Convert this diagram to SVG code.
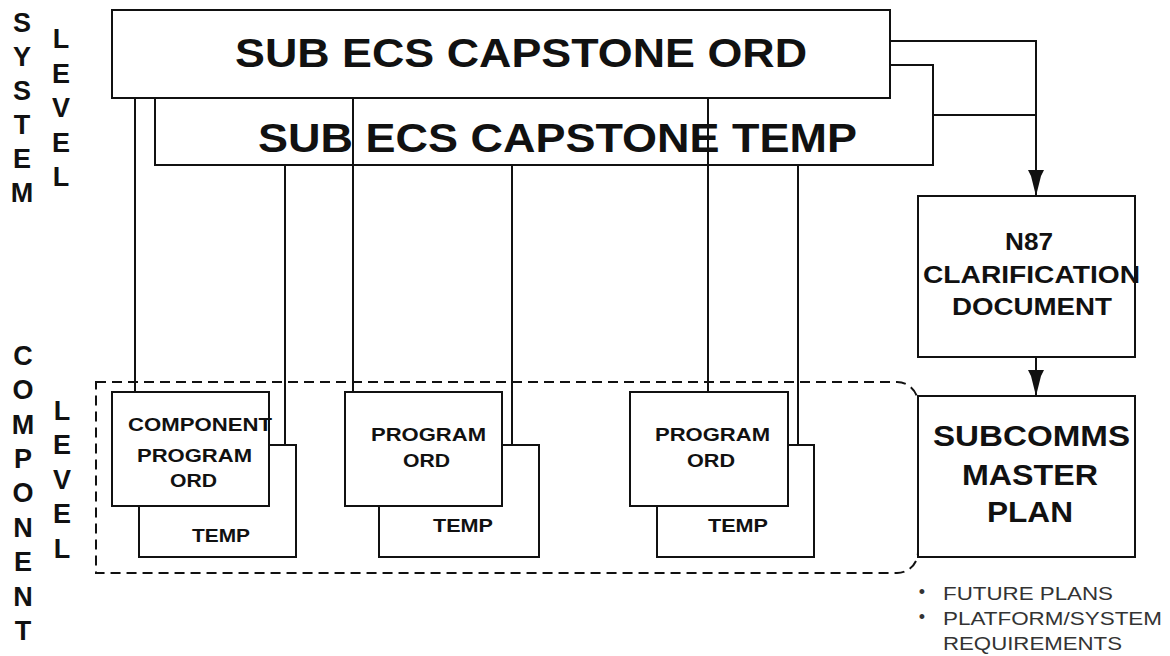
<svg xmlns="http://www.w3.org/2000/svg" width="1170" height="656" viewBox="0 0 1170 656">
<style>
.box{fill:#fff;stroke:#111;stroke-width:2}
.ln{fill:none;stroke:#111;stroke-width:2}
.dash{fill:none;stroke:#111;stroke-width:2;stroke-dasharray:10,6}
.t{font-family:"Liberation Sans",Arial,sans-serif;font-weight:bold;fill:#111}
.v{font-family:"Liberation Sans",Arial,sans-serif;font-weight:bold;fill:#111;font-size:27px;text-anchor:middle}
.b{font-family:"Liberation Sans",Arial,sans-serif;fill:#333;font-size:18px}
</style>
<defs>
<marker id="ah" viewBox="0 0 26 16" refX="26" refY="8" markerWidth="26" markerHeight="16" markerUnits="userSpaceOnUse" orient="auto">
<path d="M0,0 L6,3 L26,8 L6,13 L0,16 Z" fill="#111"/>
</marker>
</defs>
<rect width="1170" height="656" fill="#fff"/>

<g id="side-labels">
<text class="v"><tspan x="22" y="32">S</tspan><tspan x="22" y="66">Y</tspan><tspan x="22" y="100">S</tspan><tspan x="22" y="134">T</tspan><tspan x="22" y="168">E</tspan><tspan x="22" y="202">M</tspan></text>
<text class="v"><tspan x="61" y="48">L</tspan><tspan x="61" y="83">E</tspan><tspan x="61" y="117">V</tspan><tspan x="61" y="152">E</tspan><tspan x="61" y="186">L</tspan></text>
<text class="v"><tspan x="23" y="365">C</tspan><tspan x="23" y="399">O</tspan><tspan x="23" y="434">M</tspan><tspan x="23" y="468">P</tspan><tspan x="23" y="502">O</tspan><tspan x="23" y="537">N</tspan><tspan x="23" y="571">E</tspan><tspan x="23" y="606">N</tspan><tspan x="23" y="640">T</tspan></text>
<text class="v"><tspan x="62" y="420">L</tspan><tspan x="62" y="454">E</tspan><tspan x="62" y="489">V</tspan><tspan x="62" y="523">E</tspan><tspan x="62" y="558">L</tspan></text>
</g>

<g id="component-region">
<path class="dash" d="M96,382 H897 A21,21 0 0 1 918,403 V552 A21,21 0 0 1 897,573 H96 Z"/>
</g>

<g id="capstone-temp">
<rect class="box" x="155" y="65" width="778" height="100"/>
<text class="t" x="258" y="152" font-size="40" textLength="599" lengthAdjust="spacingAndGlyphs">SUB ECS CAPSTONE TEMP</text>
</g>

<g id="capstone-ord">
<rect class="box" x="112" y="10" width="778" height="88"/>
<text class="t" x="235" y="67" font-size="40" textLength="572" lengthAdjust="spacingAndGlyphs">SUB ECS CAPSTONE ORD</text>
</g>

<g id="component-temp-1">
<rect class="box" x="139" y="445" width="157" height="112"/>
<text class="t" x="192" y="542" font-size="19" textLength="58" lengthAdjust="spacingAndGlyphs">TEMP</text>
</g>
<g id="component-ord-1">
<rect class="box" x="112" y="392" width="157" height="114"/>
<text class="t" x="128" y="431" font-size="19" textLength="144" lengthAdjust="spacingAndGlyphs">COMPONENT</text>
<text class="t" x="137" y="462" font-size="19" textLength="115" lengthAdjust="spacingAndGlyphs">PROGRAM</text>
<text class="t" x="170" y="487" font-size="19" textLength="47" lengthAdjust="spacingAndGlyphs">ORD</text>
</g>

<g id="program-temp-2">
<rect class="box" x="379" y="445" width="160" height="112"/>
<text class="t" x="433" y="532" font-size="19" textLength="60" lengthAdjust="spacingAndGlyphs">TEMP</text>
</g>
<g id="program-ord-2">
<rect class="box" x="345" y="392" width="157" height="114"/>
<text class="t" x="371" y="441" font-size="19" textLength="115" lengthAdjust="spacingAndGlyphs">PROGRAM</text>
<text class="t" x="403" y="467" font-size="19" textLength="47" lengthAdjust="spacingAndGlyphs">ORD</text>
</g>

<g id="program-temp-3">
<rect class="box" x="657" y="445" width="157" height="112"/>
<text class="t" x="708" y="532" font-size="19" textLength="60" lengthAdjust="spacingAndGlyphs">TEMP</text>
</g>
<g id="program-ord-3">
<rect class="box" x="630" y="392" width="158" height="114"/>
<text class="t" x="655" y="441" font-size="19" textLength="115" lengthAdjust="spacingAndGlyphs">PROGRAM</text>
<text class="t" x="687" y="467" font-size="19" textLength="48" lengthAdjust="spacingAndGlyphs">ORD</text>
</g>

<g id="n87-clarification">
<rect class="box" x="918" y="196" width="217" height="161"/>
<text class="t" x="1005" y="250" font-size="24" textLength="48" lengthAdjust="spacingAndGlyphs">N87</text>
<text class="t" x="923" y="283" font-size="24" textLength="217" lengthAdjust="spacingAndGlyphs">CLARIFICATION</text>
<text class="t" x="952" y="315" font-size="24" textLength="160" lengthAdjust="spacingAndGlyphs">DOCUMENT</text>
</g>

<g id="subcomms-master-plan">
<rect class="box" x="918" y="396" width="217" height="161"/>
<text class="t" x="933" y="446" font-size="29" textLength="197" lengthAdjust="spacingAndGlyphs">SUBCOMMS</text>
<text class="t" x="962" y="485" font-size="29" textLength="136" lengthAdjust="spacingAndGlyphs">MASTER</text>
<text class="t" x="987" y="522" font-size="29" textLength="86" lengthAdjust="spacingAndGlyphs">PLAN</text>
</g>

<g id="notes">
<text class="b" x="922" y="598" font-size="14" text-anchor="middle">•</text>
<text class="b" x="922" y="623" font-size="14" text-anchor="middle">•</text>
<text class="b" x="943" y="600" textLength="170" lengthAdjust="spacingAndGlyphs">FUTURE PLANS</text>
<text class="b" x="943" y="625" textLength="219" lengthAdjust="spacingAndGlyphs">PLATFORM/SYSTEM</text>
<text class="b" x="943" y="650" textLength="179" lengthAdjust="spacingAndGlyphs">REQUIREMENTS</text>
</g>

<g id="connectors">
<path class="ln" d="M135,98 V392"/>
<path class="ln" d="M285,165 V445"/>
<path class="ln" d="M353,98 V392"/>
<path class="ln" d="M512,165 V445"/>
<path class="ln" d="M708,98 V392"/>
<path class="ln" d="M798,165 V445"/>
<path class="ln" d="M891,41 H1036 V196" marker-end="url(#ah)"/>
<path class="ln" d="M933,115 H1036"/>
<path class="ln" d="M1036,357 V396" marker-end="url(#ah)"/>
</g>
</svg>
